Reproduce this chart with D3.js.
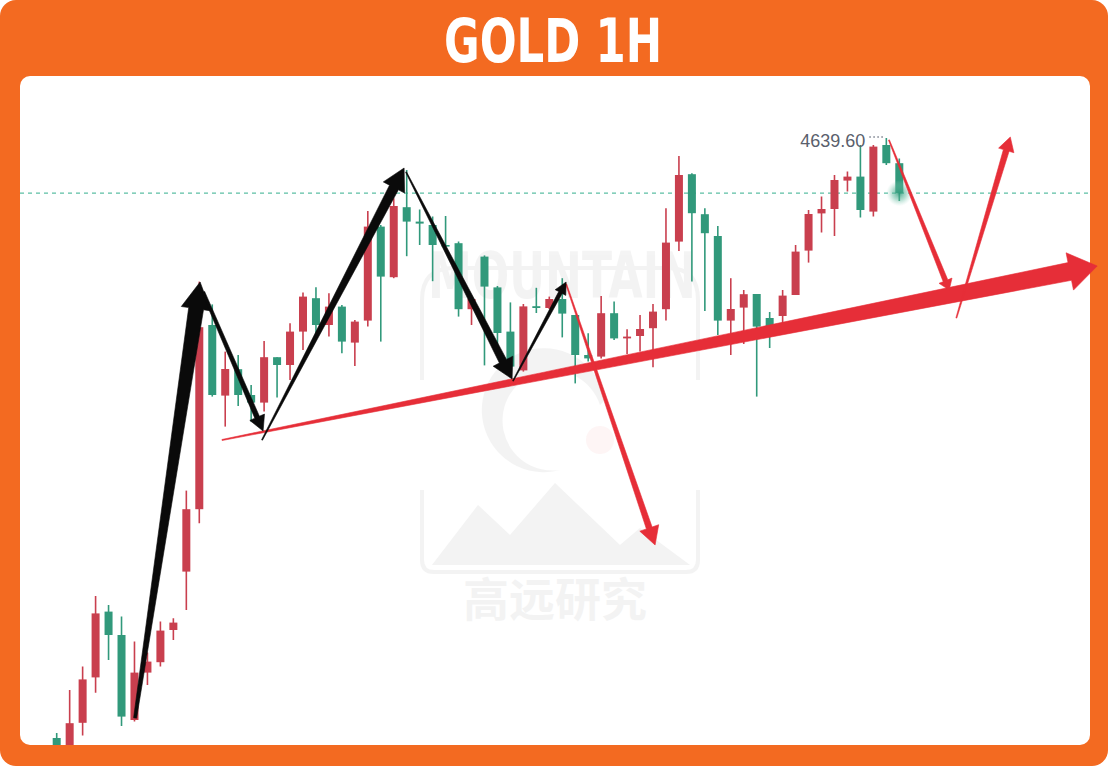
<!DOCTYPE html>
<html>
<head>
<meta charset="utf-8">
<script src="https://cdn.jsdelivr.net/npm/d3@7"></script>
<style>
  html, body { margin: 0; padding: 0; background: #ffffff; }
  svg { display: block; }
</style>
</head>
<body>
<script>
// ---------------- DATA ----------------
const title = "GOLD 1H";
const openPrices = [4339.6,4332.6,4347.2,4369.9,4402.8,4391.1,4348.6,4372.3,4377.5,4393.6,
  4422.8,4454.0,4546.1,4510.8,4524.0,4511.1,4507.3,4530.0,4526.1,4542.8,
  4559.5,4546.1,4555.3,4537.3,4548.3,4595.3,4570.0,4605.0,4597.8,4596.1,
  4586.1,4587.0,4554.0,4580.3,4564.9,4542.8,4523.4,4555.5,4554.6,4559.1,
  4551.1,4531.1,4530.3,4552.0,4539.4,4540.6,4544.5,4554.0,4587.8,4621.5,
  4601.5,4590.6,4548.3,4554.8,4561.6,4549.6,4550.6,4561.1,4583.3,4601.9,
  4604.1,4618.3,4620.3,4602.8,4636.1,4627.0];
const closePrices = [4332.6,4347.0,4368.9,4401.9,4391.1,4350.3,4372.3,4377.8,4393.3,4397.3,
  4454.0,4545.0,4511.1,4524.1,4511.1,4507.3,4530.0,4526.1,4542.8,4560.3,
  4546.1,4555.3,4537.8,4547.8,4595.3,4570.3,4605.6,4597.8,4596.8,4586.1,
  4585.3,4554.0,4559.1,4565.3,4542.1,4525.3,4555.4,4554.6,4559.1,4551.8,
  4531.1,4529.4,4552.0,4539.4,4540.3,4544.1,4552.8,4587.3,4621.1,4602.0,
  4592.0,4548.3,4554.1,4561.5,4545.3,4542.1,4560.8,4582.8,4601.6,4604.1,
  4618.6,4620.3,4603.6,4635.3,4627.0,4612.0];
const highPrices = [4342.1,4363.6,4375.3,4410.6,4406.1,4400.3,4387.8,4382.3,4397.8,4399.5,
  4463.3,4567.8,4556.4,4532.8,4531.1,4516.1,4538.1,4530.0,4547.0,4562.3,
  4565.0,4562.0,4556.1,4548.6,4603.1,4596.1,4609.5,4623.6,4603.9,4600.3,
  4600.6,4587.8,4560.3,4580.9,4565.6,4557.4,4556.6,4564.7,4560.3,4569.5,
  4551.1,4542.0,4560.6,4557.8,4544.0,4551.1,4556.6,4604.5,4630.6,4622.0,
  4604.5,4595.6,4569.5,4563.6,4561.6,4552.6,4563.6,4586.1,4603.6,4610.3,
  4621.1,4622.8,4636.1,4636.1,4639.6,4629.4];
const lowPrices = [4330.6,4330.6,4340.8,4362.2,4378.6,4345.6,4347.8,4366.1,4375.3,4388.6,
  4403.6,4447.0,4510.3,4495.3,4505.6,4497.8,4502.8,4509.8,4518.6,4533.6,
  4541.9,4540.3,4532.0,4525.6,4545.3,4537.8,4569.5,4580.5,4586.1,4568.0,
  4585.3,4550.3,4546.1,4525.9,4536.1,4520.3,4522.8,4552.1,4554.1,4539.9,
  4516.9,4527.8,4529.4,4538.6,4531.6,4532.8,4525.0,4548.3,4583.1,4567.8,
  4553.1,4541.1,4531.1,4536.6,4510.3,4534.6,4545.3,4561.1,4577.3,4592.3,
  4590.6,4612.8,4599.8,4600.3,4626.1,4608.1];

// hand-drawn annotation arrows, in (candle index, price) data units
const blackArrowStarts = [[6.05,4349.6],[11.3,4562.6],[15.84,4488.6],[26.95,4622.6],[35.2,4518.1]];
const blackArrowEnds   = [[11.06,4567.6],[15.92,4493.1],[26.8,4624.6],[35.13,4519.1],[39.3,4567.6]];
const redArrowStarts   = [[12.75,4488.6],[39.3,4566.6],[64.2,4638.6],[69.4,4549.6]];
const redArrowEnds     = [[80.27,4575.6],[46.16,4436.1],[68.85,4563.6],[73.56,4640.1]];

// ---------------- LAYOUT ----------------
const W = 1108, H = 766;
const panel = {x: 20, y: 76, w: 1070, h: 669};
const ORANGE = "#f36a21", RED = "#c93f4e", GREEN = "#31997b", PEN_RED = "#e62e38";

const svg = d3.select("body").append("svg").attr("width", W).attr("height", H);

svg.append("rect").attr("x", 0).attr("y", 0).attr("width", W).attr("height", H)
  .attr("rx", 16).attr("fill", ORANGE);
svg.append("rect").attr("x", panel.x).attr("y", panel.y).attr("width", panel.w).attr("height", panel.h)
  .attr("rx", 10).attr("fill", "#ffffff");

svg.append("text").attr("x", 553).attr("y", 62).attr("text-anchor", "middle")
  .attr("font-family", "'DejaVu Sans Condensed', 'DejaVu Sans', sans-serif")
  .attr("font-weight", "bold").attr("font-size", 60).attr("fill", "#ffffff")
  .attr("textLength", 218).attr("lengthAdjust", "spacingAndGlyphs")
  .text(title);

// clip to panel
const defs = svg.append("defs");
defs.append("clipPath").attr("id", "panelClip").append("rect")
  .attr("x", panel.x).attr("y", panel.y).attr("width", panel.w).attr("height", panel.h).attr("rx", 10);
const glow = defs.append("radialGradient").attr("id", "glow");
glow.append("stop").attr("offset", "0%").attr("stop-color", "#2f9a7a").attr("stop-opacity", 0.85);
glow.append("stop").attr("offset", "55%").attr("stop-color", "#5fb89c").attr("stop-opacity", 0.45);
glow.append("stop").attr("offset", "100%").attr("stop-color", "#9fd8c6").attr("stop-opacity", 0);

// ---------------- WATERMARK ----------------
const wm = svg.append("g").attr("clip-path", "url(#panelClip)").attr("opacity", 0.045);
wm.append("text").attr("x", 562).attr("y", 298).attr("text-anchor", "middle")
  .attr("font-family", "'DejaVu Sans', sans-serif").attr("font-weight", "bold").attr("font-size", 64)
  .attr("textLength", 268).attr("lengthAdjust", "spacingAndGlyphs")
  .attr("fill", "#000").text("MOUNTAIN");
wm.append("path").attr("d", "M422,380 L422,300 Q422,268 454,268 L668,268 Q698,268 698,300 L698,380")
  .attr("fill", "none").attr("stroke", "#000").attr("stroke-width", 4);
wm.append("path").attr("d", "M422,490 L422,560 Q422,572 434,572 L686,572 Q698,572 698,560 L698,490")
  .attr("fill", "none").attr("stroke", "#000").attr("stroke-width", 4);
wm.append("path").attr("d", "M605,400 A62,62 0 1 0 560,470 A50,50 0 1 1 600,405 Z").attr("fill", "#000");
wm.append("path").attr("d", "M432,565 L478,505 L510,535 L555,483 L620,545 L640,528 L690,565 Z").attr("fill", "#000");
wm.append("text").attr("x", 555).attr("y", 616).attr("text-anchor", "middle")
  .attr("font-family", "'Noto Sans CJK SC', sans-serif").attr("font-weight", "bold").attr("font-size", 46)
  .attr("fill", "#000").text("高远研究");
svg.append("circle").attr("cx", 600).attr("cy", 440).attr("r", 14).attr("fill", "#e23a3a").attr("opacity", 0.05);

// ---------------- SCALES ----------------
const x = d3.scaleLinear().domain([0, openPrices.length - 1]).range([56.7, 899.3]);
const y = d3.scaleLinear().domain([4339.6, 4639.6]).range([738, 138]);

const candles = openPrices.map((o, i) => ({i, o, c: closePrices[i], h: highPrices[i], l: lowPrices[i]}));

// current price dashed line
const lastClose = closePrices[closePrices.length - 1];
svg.append("line").attr("x1", panel.x).attr("x2", panel.x + panel.w)
  .attr("y1", y(lastClose)).attr("y2", y(lastClose))
  .attr("stroke", "#5cbfa4").attr("stroke-width", 1.2).attr("stroke-dasharray", "4,4");

// ---------------- CANDLES ----------------
const cg = svg.append("g").attr("clip-path", "url(#panelClip)");
const bodyW = 8;
cg.selectAll("line.wick").data(candles).join("line").attr("class", "wick")
  .attr("x1", d => x(d.i)).attr("x2", d => x(d.i))
  .attr("y1", d => y(d.h)).attr("y2", d => y(d.l))
  .attr("stroke", d => d.c >= d.o ? RED : GREEN).attr("stroke-width", 1.6);
cg.selectAll("rect.body").data(candles).join("rect").attr("class", "body")
  .attr("x", d => x(d.i) - bodyW / 2).attr("width", bodyW)
  .attr("y", d => y(Math.max(d.o, d.c)))
  .attr("height", d => Math.max(1.5, Math.abs(y(d.o) - y(d.c))))
  .attr("fill", d => d.c >= d.o ? RED : GREEN);

// glow on the live candle
const last = candles[candles.length - 1];
svg.append("circle").attr("cx", x(last.i)).attr("cy", y(lastClose)).attr("r", 13).attr("fill", "url(#glow)");

// high label
const maxHigh = d3.max(highPrices);
const maxIdx = highPrices.indexOf(maxHigh);
svg.append("text").attr("x", x(maxIdx) - 21).attr("y", y(maxHigh) + 9)
  .attr("text-anchor", "end").attr("font-family", "'Liberation Sans', Arial, sans-serif")
  .attr("font-size", 18).attr("fill", "#5a606c").text(d3.format(".2f")(maxHigh));
svg.append("line").attr("x1", x(maxIdx) - 17).attr("x2", x(maxIdx) - 1)
  .attr("y1", y(maxHigh) - 1).attr("y2", y(maxHigh) - 1)
  .attr("stroke", "#7a808c").attr("stroke-width", 1.3).attr("stroke-dasharray", "1.5,2.5");

// ---------------- ANNOTATION ARROWS ----------------
function arrowPath(p0, p1, w0, w1, L, Hh) {
  const dx = p1[0] - p0[0], dy = p1[1] - p0[1];
  const len = Math.hypot(dx, dy);
  const ux = dx / len, uy = dy / len, nx = -uy, ny = ux;
  const bx = p1[0] - ux * L, by = p1[1] - uy * L;
  const pts = [
    [p0[0] + nx * w0 / 2, p0[1] + ny * w0 / 2],
    [bx + nx * w1 / 2, by + ny * w1 / 2],
    [bx + nx * Hh, by + ny * Hh],
    [p1[0], p1[1]],
    [bx - nx * Hh, by - ny * Hh],
    [bx - nx * w1 / 2, by - ny * w1 / 2],
    [p0[0] - nx * w0 / 2, p0[1] - ny * w0 / 2]
  ];
  return "M" + pts.map(p => p[0].toFixed(1) + "," + p[1].toFixed(1)).join("L") + "Z";
}
const toPx = d => [x(d[0]), y(d[1])];

// style per arrow: [startWidth, endWidth, headLength, headHalfWidth]
const blackStyles = [[3, 15, 27, 15], [3, 5, 15, 8], [1, 10, 22, 12], [1, 8, 20, 11], [1, 4, 12, 6]];
const redStyles   = [[1, 18, 28, 19], [1, 6, 18, 10], [1, 5, 10, 7], [1, 6, 14, 8]];

const ag = svg.append("g");
ag.selectAll("path.red").data(redArrowStarts).join("path").attr("class", "red")
  .attr("d", (d, i) => arrowPath(toPx(d), toPx(redArrowEnds[i]), ...redStyles[i]))
  .attr("fill", PEN_RED).attr("stroke", PEN_RED).attr("stroke-width", 0.6).attr("stroke-linejoin", "round");
ag.selectAll("path.black").data(blackArrowStarts).join("path").attr("class", "black")
  .attr("d", (d, i) => arrowPath(toPx(d), toPx(blackArrowEnds[i]), ...blackStyles[i]))
  .attr("fill", "#0a0a0a").attr("stroke", "#0a0a0a").attr("stroke-width", 0.6).attr("stroke-linejoin", "round");
</script>
</body>
</html>
